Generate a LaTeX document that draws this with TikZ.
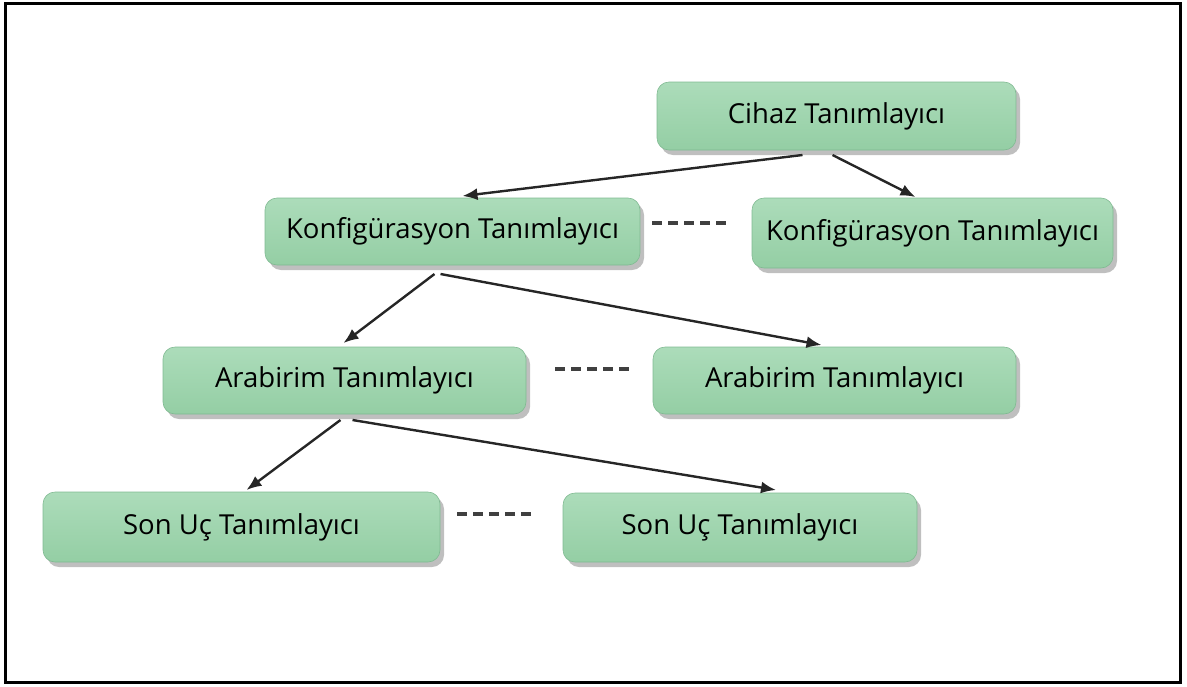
\documentclass[tikz,border=0pt]{standalone}
\usepackage{fontspec}
\setmainfont{Open Sans}
\usepackage{tikz}
\usetikzlibrary{shadows,arrows.meta,positioning}

\definecolor{boxgreen}{RGB}{148,206,164}
\definecolor{boxtop}{RGB}{172,220,186}
\definecolor{boxedge}{RGB}{128,186,146}

\tikzset{
	tanim/.style={rectangle, rounded corners=12pt, draw=boxedge, line width=0.6pt,
		top color=boxtop, bottom color=boxgreen, inner sep=0pt, outer sep=0pt,
		font=\fontsize{27.5}{32}\selectfont, text=black,
		drop shadow={shadow xshift=4pt, shadow yshift=-5pt, fill=black, opacity=0.25}},
	link/.style={->, line width=2.4pt, black!85},
	dashline/.style={line width=3.5pt, black!75, dash pattern=on 10pt off 6pt}
}

\begin{document}
\begin{tikzpicture}[x=1pt,y=-1pt,>={Latex[length=15pt,width=12pt]}]
		\useasboundingbox (0,0) rectangle (1187,686);
		\draw[line width=3pt] (5,3) rectangle (1180,682);
		
		% descriptor boxes
		\node[tanim, minimum width=359pt, minimum height=68pt] (cihaz) at (836.5,116) {Cihaz Tanımlayıcı};
		
		\node[tanim, minimum width=375pt, minimum height=67pt] (konfA) at (452.5,231.5) {Konfigürasyon Tanımlayıcı};
		\node[tanim, minimum width=361pt, minimum height=70pt] (konfB) at (932.5,233) {Konfigürasyon Tanımlayıcı};
		
		\node[tanim, minimum width=363pt, minimum height=67pt] (arabA) at (344.5,380.5) {Arabirim Tanımlayıcı};
		\node[tanim, minimum width=363pt, minimum height=67pt] (arabB) at (834.5,380.5) {Arabirim Tanımlayıcı};
		
		\node[tanim, minimum width=397pt, minimum height=70pt] (sonA) at (241.5,527) {Son Uç Tanımlayıcı};
		\node[tanim, minimum width=354pt, minimum height=69pt] (sonB) at (740,527.5) {Son Uç Tanımlayıcı};
		
		% arrows
		\draw[link] ([xshift=-34pt,yshift=-5pt]cihaz.south) -- ([xshift=10pt,yshift=2pt]konfA.north);
		\draw[link] ([xshift=-4pt,yshift=-5pt]cihaz.south) -- ([xshift=-17pt,yshift=1pt]konfB.north);
		
		\draw[link] ([xshift=-18pt,yshift=-9pt]konfA.south) -- ([xshift=-1pt,yshift=4pt]arabA.north);
		\draw[link] ([xshift=-12pt,yshift=-9pt]konfA.south) -- ([xshift=-13pt,yshift=2pt]arabB.north);
		
		\draw[link] ([xshift=-4pt,yshift=-6pt]arabA.south) -- ([xshift=5pt,yshift=2pt]sonA.north);
		\draw[link] ([xshift=8pt,yshift=-6pt]arabA.south) -- ([xshift=36pt,yshift=3pt]sonB.north);
		
		% dashes between siblings
		\draw[dashline] ([xshift=12pt,yshift=8.5pt]konfA.east) -- ++(74,0);
		\draw[dashline] ([xshift=29pt,yshift=11.5pt]arabA.east) -- ++(74,0);
		\draw[dashline] ([xshift=17pt,yshift=13pt]sonA.east) -- ++(74,0);
	\end{tikzpicture}
\end{document}
